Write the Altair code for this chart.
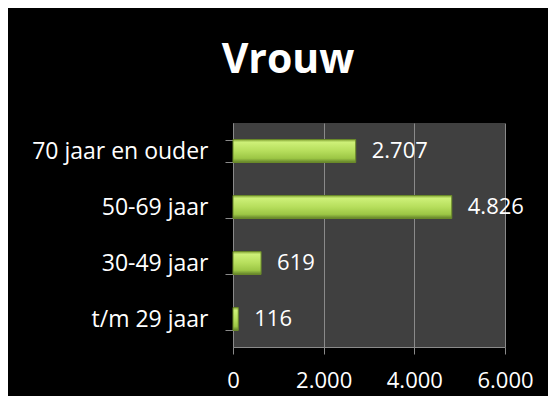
import altair as alt
import pandas as pd

categories = ["70 jaar en ouder", "50-69 jaar", "30-49 jaar", "t/m 29 jaar"]
values = [2707, 4826, 619, 116]
labels = ["2.707", "4.826", "619", "116"]
x_ticks = [0, 2000, 4000, 6000]
title_text = "Vrouw"

df = pd.DataFrame({"cat": categories, "val": values, "lab": labels})

FONT = "Open Sans"

y_enc = alt.Y(
    "cat:N",
    sort=categories,
    title=None,
    scale=alt.Scale(paddingInner=0.59, paddingOuter=0.295),
    axis=alt.Axis(
        tickBand="extent",
        tickSize=8,
        tickColor="#8a8a8a",
        domainColor="#8a8a8a",
        labelColor="white",
        labelFont=FONT,
        labelFontSize=23,
        labelPadding=17,
        grid=False,
    ),
)

x_enc = alt.X(
    "val:Q",
    title=None,
    scale=alt.Scale(domain=[0, 6000], nice=False),
    axis=alt.Axis(
        values=x_ticks,
        labelExpr="replace(format(datum.value, ','), ',', '.')",
        tickSize=7,
        tickColor="#8a8a8a",
        domainColor="#8a8a8a",
        gridColor="#8a8a8a",
        grid=True,
        labelColor="white",
        labelFont=FONT,
        labelFontSize=22,
        labelPadding=16,
        labelFlush=False,
    ),
)

gradient = alt.Gradient(
    gradient="linear",
    stops=[
        alt.GradientStop(color="#86a838", offset=0),
        alt.GradientStop(color="#cdf078", offset=0.12),
        alt.GradientStop(color="#b6de5c", offset=0.5),
        alt.GradientStop(color="#9cc645", offset=0.82),
        alt.GradientStop(color="#62802a", offset=1),
    ],
    x1=0, x2=0, y1=0, y2=1,
)

bars = alt.Chart(df).mark_bar(color=gradient, stroke="#6b8a2a", strokeWidth=1).encode(
    y=y_enc, x=x_enc
)

text = alt.Chart(df).mark_text(
    align="left", baseline="middle", dx=16, color="white", font=FONT, fontSize=22
).encode(y=alt.Y("cat:N", sort=categories), x="val:Q", text="lab:N")

chart = (
    alt.layer(bars, text)
    .properties(
        width=272,
        height=224,
        background="black",
        padding={"left": 225, "top": 115, "right": 43, "bottom": 49},
        autosize=alt.AutoSizeParams(type="none"),
        title=alt.TitleParams(
            text=title_text,
            font=FONT,
            fontSize=41,
            fontWeight="bold",
            color="white",
            anchor="middle",
            dx=-81,
            dy=38,
            offset=36,
            baseline="alphabetic",
        ),
    )
    .configure_view(fill="#404040", stroke=None)
)

chart.save("out.html", embed_options={"renderer": "svg", "actions": False})
